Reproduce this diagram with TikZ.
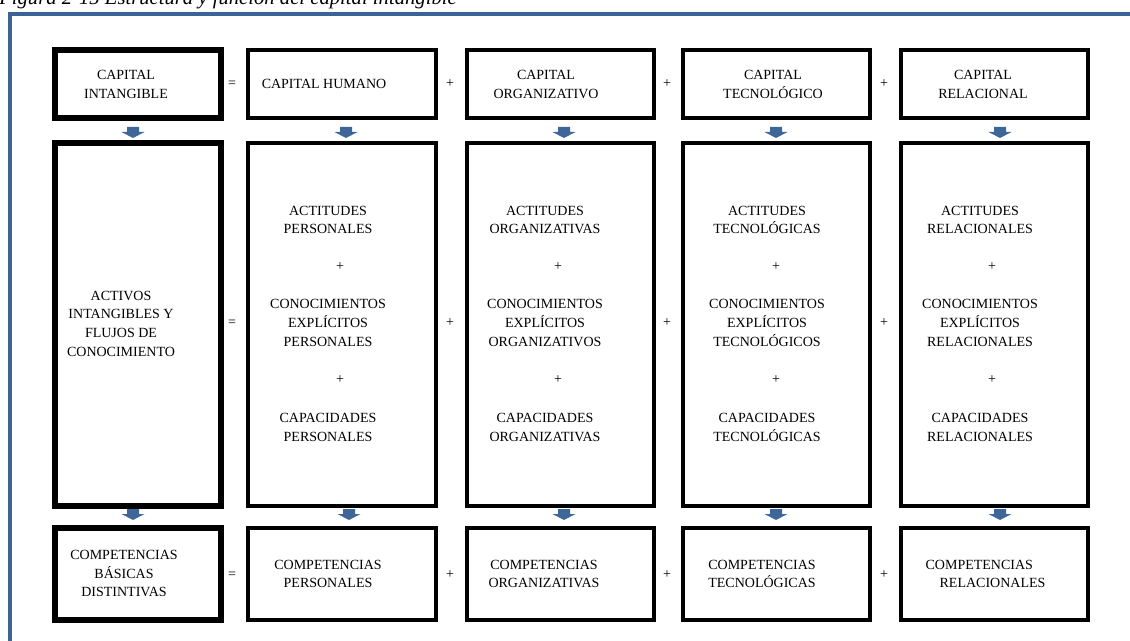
\documentclass[tikz,border=0pt]{standalone}
\usepackage{fontspec}
\setmainfont{Liberation Serif}
\definecolor{frameblue}{RGB}{60,99,150}
\definecolor{arrowblue}{RGB}{62,102,152}
% box from corner (x1,y1) to corner (x2,y2), pixel units
\newcommand\placebox[6]{\node[#6, minimum width={(#4-#2)*0.75pt}, minimum height={(#5-#3)*0.75pt}] (#1) at ({(#2+#4)/2},{(#3+#5)/2}) {};}
% downward block arrow with its top centre at (x,y)
\newcommand\flowarrow[2]{\fill[flow] (#1-6,#2) -- (#1+6,#2) -- (#1+6,#2+5) -- (#1+11.5,#2+5) -- (#1,#2+11) -- (#1-11.5,#2+5) -- (#1-6,#2+5) -- cycle;}
\begin{document}
\begin{tikzpicture}[x=0.75pt,y=-0.75pt,
  box/.style={draw=black, line width=2.6pt, inner sep=0pt, outer sep=0pt},
  keybox/.style={draw=black, line width=4.3pt, inner sep=0pt, outer sep=0pt},
  lbl/.style={font=\fontsize{10.5}{14}\selectfont, align=center, inner sep=0pt},
  op/.style={font=\fontsize{10.5}{14}\selectfont, inner sep=0pt},
  flow/.style={fill=arrowblue, draw=none}]
\useasboundingbox (0,0) rectangle (1130,641);

% caption and frame
\node[anchor=base west, inner sep=0pt, font=\fontsize{15.5}{17}\selectfont\itshape] (title) at (-1,5)
  {Figura 2-15 Estructura y función del capital intangible};
\draw[frameblue, line width=3pt] (10,660) -- (10,14) -- (1150,14);

% top row
\placebox{t1}{55}{50}{221}{118}{keybox}
\placebox{t2}{248}{50}{436}{118}{box}
\placebox{t3}{467}{50}{654}{118}{box}
\placebox{t4}{683}{50}{870}{118}{box}
\placebox{t5}{901}{50}{1088}{118}{box}

% middle row
\placebox{m1}{55}{143}{221}{506}{keybox}
\placebox{m2}{248}{143}{436}{506}{box}
\placebox{m3}{467}{143}{654}{506}{box}
\placebox{m4}{683}{143}{870}{506}{box}
\placebox{m5}{901}{143}{1088}{506}{box}

% bottom row
\placebox{b1}{55}{528}{221}{620}{keybox}
\placebox{b2}{248}{528}{436}{620}{box}
\placebox{b3}{467}{528}{654}{620}{box}
\placebox{b4}{683}{528}{870}{620}{box}
\placebox{b5}{901}{528}{1088}{620}{box}

% arrows between rows
\flowarrow{133}{127}
\flowarrow{346}{127}
\flowarrow{564}{127}
\flowarrow{776}{127}
\flowarrow{1000}{127}
\flowarrow{133}{509}
\flowarrow{349}{509}
\flowarrow{564}{509}
\flowarrow{776}{509}
\flowarrow{1000}{509}

% operators
\foreach \r/\y in {t/84, m/323, b/575}{
  \node[op] (\r eq) at (232,\y) {=};
  \node[op] (\r p1) at (450,\y) {+};
  \node[op] (\r p2) at (667,\y) {+};
  \node[op] (\r p3) at (884,\y) {+};
}

% top row texts
\node[lbl] (tt1) at (126,84.5) {CAPITAL\\INTANGIBLE};
\node[lbl] (tt2) at (324,84) {CAPITAL HUMANO};
\node[lbl] (tt3) at (546,84.5) {CAPITAL\\ORGANIZATIVO};
\node[lbl] (tt4) at (773,84.5) {CAPITAL\\TECNOLÓGICO};
\node[lbl] (tt5) at (983,84.5) {CAPITAL\\RELACIONAL};

% middle row texts
\node[lbl] (mt1) at (121,323.5) {ACTIVOS\\INTANGIBLES Y\\FLUJOS DE\\CONOCIMIENTO};

\foreach \c/\x/\px/\a/\b in {2/328/340/PERSONALES/PERSONALES,
                              3/545/558/ORGANIZATIVAS/ORGANIZATIVOS,
                              4/767/776/TECNOLÓGICAS/TECNOLÓGICOS,
                              5/980/992/RELACIONALES/RELACIONALES}{
  \node[lbl] (ma\c) at (\x,220) {ACTITUDES\\\a};
  \node[op]  (mp\c) at (\px,266.5) {+};
  \node[lbl] (mk\c) at (\x,323) {CONOCIMIENTOS\\EXPLÍCITOS\\\b};
  \node[op]  (mq\c) at (\px,379.5) {+};
  \node[lbl] (mc\c) at (\x,427.5) {CAPACIDADES\\\a};
}

% bottom row texts
\node[lbl] (bt1) at (124,573.5) {COMPETENCIAS\\BÁSICAS\\DISTINTIVAS};
\node[lbl] (bt2) at (328,574) {COMPETENCIAS\\PERSONALES};
\node[lbl] (bt3) at (544,574) {COMPETENCIAS\\ORGANIZATIVAS};
\node[lbl] (bt4) at (762,574) {COMPETENCIAS\\TECNOLÓGICAS};
\node[lbl, align=left] (bt5) at (985.5,574) {COMPETENCIAS\\\hspace*{10.5pt}RELACIONALES};
\end{tikzpicture}
\end{document}
